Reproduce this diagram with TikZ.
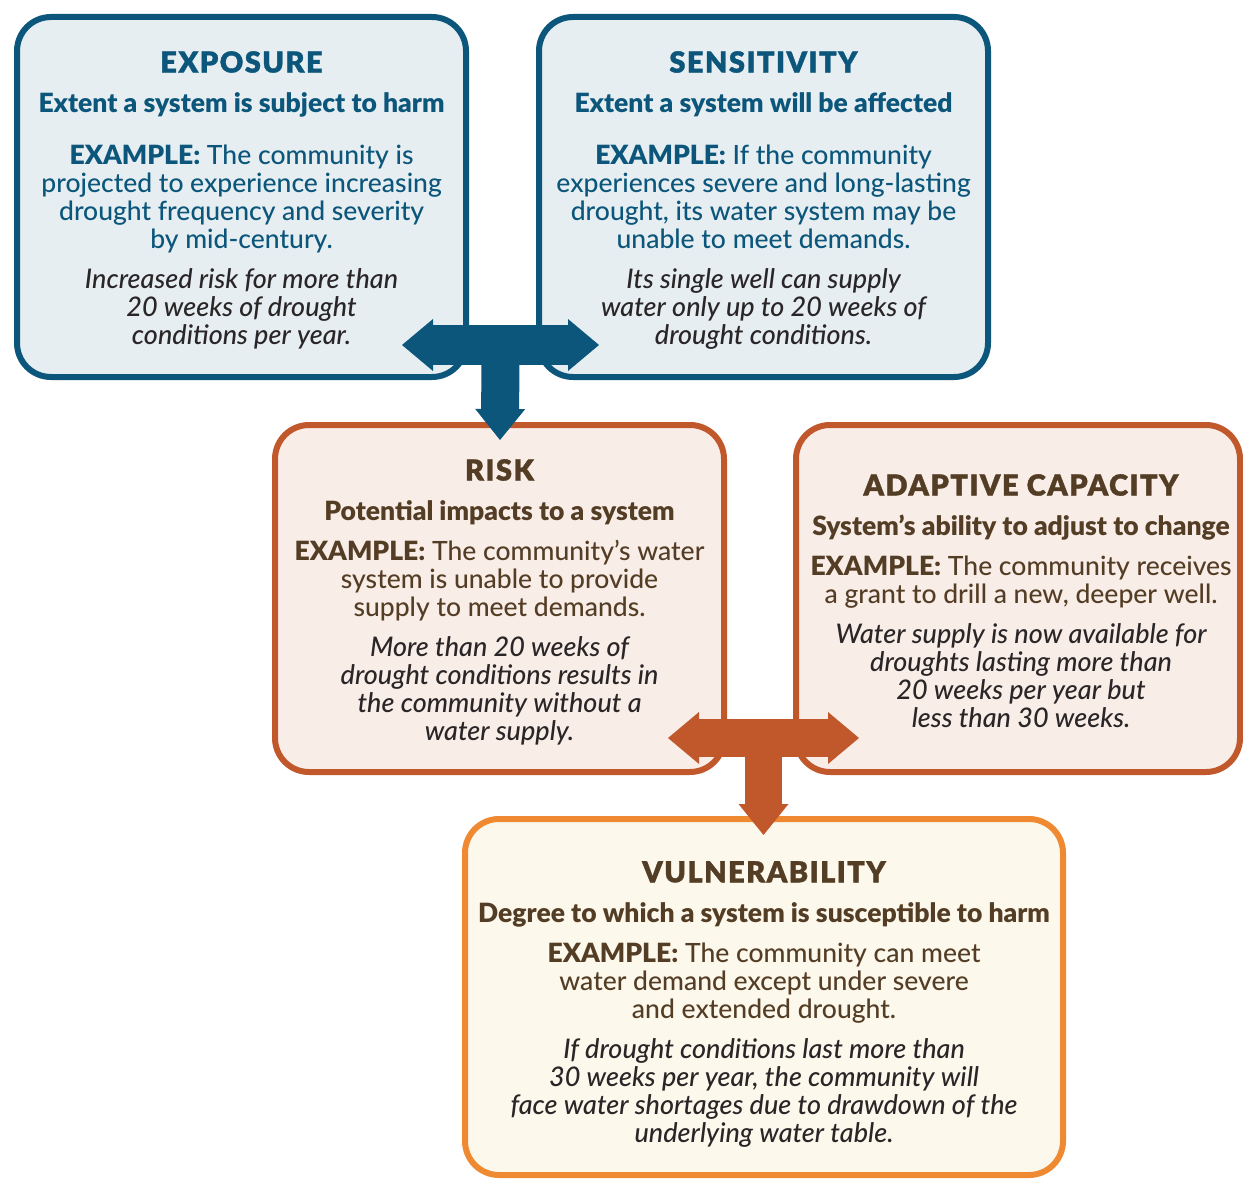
\documentclass[tikz,border=0pt]{standalone}
\usepackage{fontspec}
\setmainfont{Lato}
\newfontfamily\titlefont{Lato Black}[LetterSpace=5, FakeBold=1.2]
\newfontfamily\medfont{Lato Medium}[ItalicFont={Lato Medium Italic}]
\usetikzlibrary{arrows.meta,positioning,calc}

\definecolor{bluedark}{HTML}{0B567A}
\definecolor{bluefill}{HTML}{E6EEF2}
\definecolor{rust}{HTML}{C1582B}
\definecolor{rustfill}{HTML}{F9EDE8}
\definecolor{orangeline}{HTML}{EF8A33}
\definecolor{orangefill}{HTML}{FDF8EC}
\definecolor{brown}{HTML}{543D25}
\definecolor{ink}{HTML}{2A2627}

\newcommand{\boxtitle}[1]{{\titlefont\fontsize{29}{28}\selectfont #1}}
\newcommand{\exlabel}{{\bfseries EXAMPLE:}}
\newcommand{\noteline}[1]{{\itshape\color{ink}\fontsize{27}{28}\selectfont #1}}

\begin{document}
\begin{tikzpicture}[
  x=1pt, y=-1pt,
  box/.style={rectangle, rounded corners=34pt, line width=6pt},
  bluebox/.style={box, draw=bluedark, fill=bluefill},
  rustbox/.style={box, draw=rust, fill=rustfill},
  vulnbox/.style={box, draw=orangeline, fill=orangefill},
  txt/.style={align=center, inner sep=0pt, font=\medfont\fontsize{26.5}{28}\selectfont},
  bluetxt/.style={txt, text=bluedark},
  browntxt/.style={txt, text=brown},
  tee/.style={line width=#1, {Triangle[length=31pt, width=52pt, line width=0pt]}-{Triangle[length=31pt, width=52pt, line width=0pt]}},
  teedown/.style={line width=#1, -{Triangle[length=31pt, width=50pt, line width=0pt]}}
]
  \useasboundingbox (0,0) rectangle (1243,1180);

  % Boxes
  \node[bluebox, minimum width=449pt, minimum height=360pt] (exposure) at (241.5,197) {};
  \node[bluebox, minimum width=449pt, minimum height=360pt] (sensitivity) at (763.5,197) {};
  \node[rustbox, minimum width=449pt, minimum height=347pt] (risk) at (499.5,598.5) {};
  \node[rustbox, minimum width=444pt, minimum height=347pt] (adaptive) at (1018,598.5) {};
  \node[vulnbox, minimum width=598pt, minimum height=356pt] (vulnerability) at (764,997) {};

  % Arrows
  \coordinate (bluehub) at (500.5,342);
  \coordinate (blueleft) at ($(exposure.south east)+(-67,-35)$);
  \coordinate (blueright) at ($(sensitivity.south west)+(63,-35)$);
  \coordinate (bluetip) at ($(risk.north)+(0.5,18)$);
  \draw[bluedark, tee=40pt] (blueleft) -- (blueright);
  \draw[bluedark, teedown=38pt] (bluehub) -- (bluetip);

  \coordinate (rusthub) at (763.5,738);
  \coordinate (rustleft) at (668,738);
  \coordinate (rustright) at (859,738);
  \coordinate (rusttip) at ($(vulnerability.north)+(-0.5,19)$);
  \draw[rust, tee=38pt] (rustleft) -- (rustright);
  \draw[rust, teedown=37pt] (rusthub) -- (rusttip);

  % Texts
  \node[bluetxt, below=37pt of exposure.north] (expotext) {%
    \boxtitle{EXPOSURE}\\[12pt]
    {\bfseries Extent a system is subject to harm}\\[24pt]
    \exlabel{} The community is\\
    projected to experience increasing\\
    drought frequency and severity\\
    by mid-century.\\[12pt]
    \noteline{Increased risk for more than}\\
    \noteline{20 weeks of drought}\\
    \noteline{conditions per year.}};

  \node[bluetxt, below=37pt of sensitivity.north] (senstext) {%
    \boxtitle{SENSITIVITY}\\[12pt]
    {\bfseries Extent a system will be affected}\\[24pt]
    \exlabel{} If the community\\
    experiences severe and long-lasting\\
    drought, its water system may be\\
    unable to meet demands.\\[12pt]
    \noteline{Its single well can supply}\\
    \noteline{water only up to 20 weeks of}\\
    \noteline{drought conditions.}};

  \node[browntxt, below=37pt of risk.north] (risktext) {%
    \boxtitle{RISK}\\[12pt]
    {\bfseries Potential impacts to a system}\\[12pt]
    \exlabel{} The community’s water\\
    system is unable to provide\\
    supply to meet demands.\\[12pt]
    \noteline{More than 20 weeks of}\\
    \noteline{drought conditions results in}\\
    \noteline{the community without a}\\
    \noteline{water supply.}};

  \node[browntxt, below=52pt of adaptive.north, xshift=3pt] (adapttext) {%
    \boxtitle{ADAPTIVE CAPACITY}\\[12pt]
    {\bfseries System’s ability to adjust to change}\\[12pt]
    \exlabel{} The community receives\\
    a grant to drill a new, deeper well.\\[12pt]
    \noteline{Water supply is now available for}\\
    \noteline{droughts lasting more than}\\
    \noteline{20 weeks per year but}\\
    \noteline{less than 30 weeks.}};

  \node[browntxt, below=45pt of vulnerability.north] (vulntext) {%
    \boxtitle{VULNERABILITY}\\[12pt]
    {\bfseries Degree to which a system is susceptible to harm}\\[12pt]
    \exlabel{} The community can meet\\
    water demand except under severe\\
    and extended drought.\\[12pt]
    \noteline{If drought conditions last more than}\\
    \noteline{30 weeks per year, the community will}\\
    \noteline{face water shortages due to drawdown of the}\\
    \noteline{underlying water table.}};
\end{tikzpicture}
\end{document}
